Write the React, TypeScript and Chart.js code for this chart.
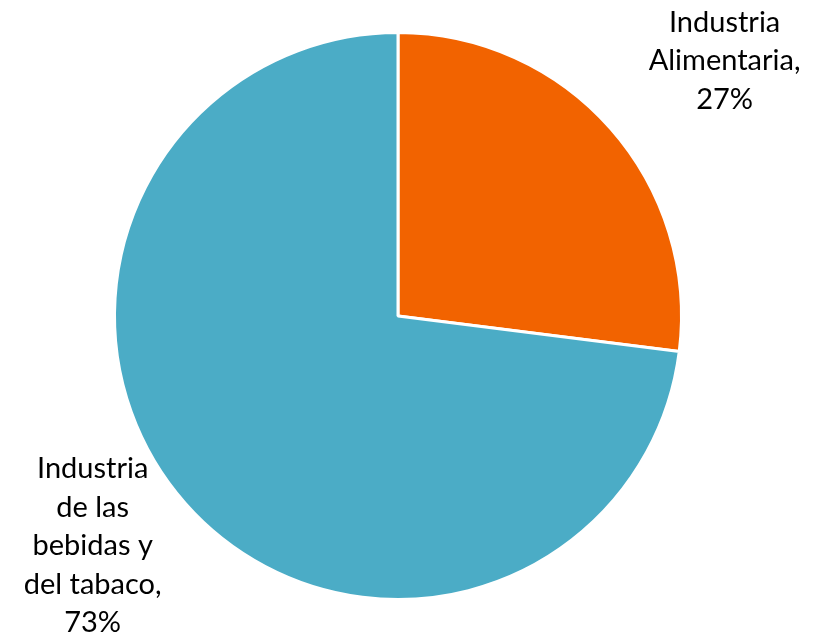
import React, { useEffect, useRef } from "react";
import { Chart, registerables } from "chart.js";
Chart.register(...registerables);

const categories = ["Industria Alimentaria", "Industria de las bebidas y del tabaco"];
const values = [27, 73];
const colors = ["#F26300", "#4BACC6"];
const labelLines = [
  ["Industria", "Alimentaria,", "27%"],
  ["Industria", "de las", "bebidas y", "del tabaco,", "73%"],
];

const labelPlugin = {
  id: "outLabels",
  afterDraw(chart: any) {
    const ctx = chart.ctx;
    const meta = chart.getDatasetMeta(0);
    const arc0 = meta.data[0];
    const cx = arc0.x, cy = arc0.y, r = arc0.outerRadius;
    ctx.save();
    ctx.font = "29px Lato";
    ctx.fillStyle = "#000";
    ctx.textAlign = "center";
    ctx.textBaseline = "middle";
    const lh = 38.5;
    const a = { x: cx + r * 1.152, y: cy - r * 1.035 };
    labelLines[0].forEach((t, i) => ctx.fillText(t, a.x, a.y + i * lh));
    const b = { x: cx - r * 1.077, y: cy + r * 0.54 };
    labelLines[1].forEach((t, i) => ctx.fillText(t, b.x, b.y + i * lh));
    ctx.restore();
  },
};

export default function App() {
  const ref = useRef<HTMLCanvasElement>(null);
  useEffect(() => {
    const chart = new Chart(ref.current!, {
      type: "pie",
      data: {
        labels: categories,
        datasets: [
          {
            data: values,
            backgroundColor: colors,
            borderColor: "#FFFFFF",
            borderWidth: 3,
          },
        ],
      },
      options: {
        animation: false,
        responsive: true,
        maintainAspectRatio: false,
        layout: { padding: { left: 113, right: 134, top: 31, bottom: 33 } },
        plugins: { legend: { display: false }, tooltip: { enabled: false } },
      },
      plugins: [labelPlugin],
    });
    return () => chart.destroy();
  }, []);
  return (
    <div style={{ position: "fixed", left: 0, top: 0, width: 817, height: 634, background: "#fff" }}>
      <canvas ref={ref} />
    </div>
  );
}
